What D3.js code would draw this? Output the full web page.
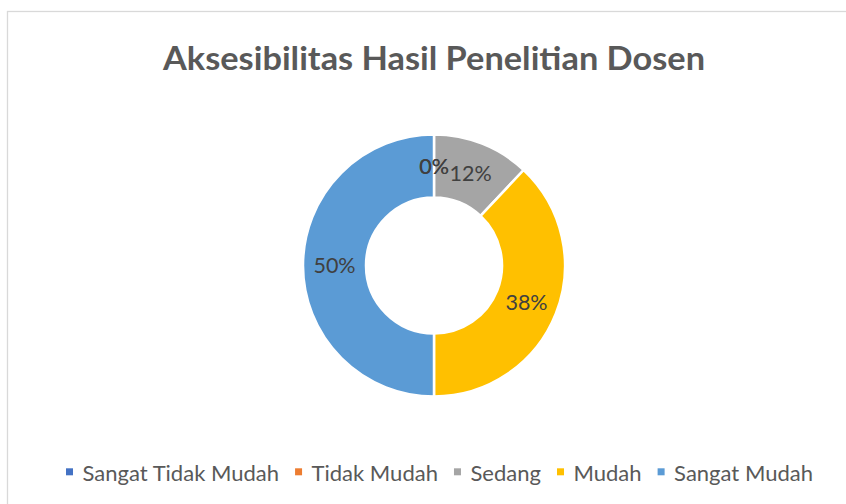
<!DOCTYPE html>
<html>
<head>
<meta charset="utf-8">
<script src="https://cdn.jsdelivr.net/npm/d3@7"></script>
<style>
  html, body { margin: 0; padding: 0; background: #fff; }
  svg { display: block; }
</style>
</head>
<body>
<svg id="chart" width="846" height="504"></svg>
<script>
const title = "Aksesibilitas Hasil Penelitian Dosen";
const categories = ["Sangat Tidak Mudah", "Tidak Mudah", "Sedang", "Mudah", "Sangat Mudah"];
const values = [0, 0, 12, 38, 50];
const colors = ["#4472C4", "#ED7D31", "#A5A5A5", "#FFC000", "#5B9BD5"];

const W = 846, H = 504;
const svg = d3.select("#chart");
const FONT = "Lato, 'Open Sans', sans-serif";

// chart area border
svg.append("rect")
  .attr("x", 7.5).attr("y", 11.5)
  .attr("width", W + 20).attr("height", H + 20)
  .attr("fill", "#fff")
  .attr("stroke", "#d9d9d9").attr("stroke-width", 1.3);

// title
svg.append("text")
  .attr("x", 163).attr("y", 70)
  .attr("font-family", FONT)
  .attr("font-weight", "bold")
  .attr("font-size", 33)
  .attr("fill", "#595959")
  .attr("textLength", 542)
  .attr("lengthAdjust", "spacingAndGlyphs")
  .text(title);

// donut
const cx = 434, cy = 265.5, R = 131, r = 68;
const data = categories.map((c, i) => ({ cat: c, value: values[i], color: colors[i] }));
const total = d3.sum(values);
const pie = d3.pie().sort(null).value(d => d.value);
const arcs = pie(data);
const arc = d3.arc().innerRadius(r).outerRadius(R);
const labelArc = d3.arc().innerRadius((r + R) / 2).outerRadius((r + R) / 2);
const pct = d3.format(".0%");

const g = svg.append("g").attr("transform", `translate(${cx},${cy})`);
g.selectAll("path.slice")
  .data(arcs)
  .join("path")
  .attr("class", "slice")
  .attr("d", arc)
  .attr("fill", d => d.data.color)
  .attr("stroke", "#fff")
  .attr("stroke-width", d => d.data.value > 0 ? 2.5 : 0)
  .attr("stroke-linejoin", "round");

g.selectAll("text.lbl")
  .data(arcs)
  .join("text")
  .attr("class", "lbl")
  .attr("transform", d => {
    const [x, y] = labelArc.centroid(d);
    return `translate(${x},${y})`;
  })
  .attr("text-anchor", "middle")
  .attr("dy", "0.36em")
  .attr("font-family", FONT)
  .attr("font-size", 21.5)
  .attr("fill", "#404040")
  .text(d => pct(d.data.value / total));

// legend
const legendStart = 66, legendEnd = 813;
const mk = 7, mkGap = 9.5, itemGap = 16;
const LFS = 22;
const lg = svg.append("g");
const items = lg.selectAll("g.item").data(data).join("g").attr("class", "item");
const texts = items.append("text")
  .attr("font-family", FONT)
  .attr("font-size", LFS)
  .attr("fill", "#595959")
  .attr("y", 480.5)
  .text(d => d.cat);
const widths = [];
let measured = 0;
texts.each(function () { const w = this.getComputedTextLength(); widths.push(w); measured += w; });
const avail = (legendEnd - legendStart) - data.length * (mk + mkGap) - (data.length - 1) * itemGap;
const k = avail / measured;
let x = legendStart;
items.each(function (d, i) {
  const it = d3.select(this);
  it.append("rect")
    .attr("x", x).attr("y", 468.3)
    .attr("width", mk).attr("height", mk)
    .attr("fill", d.color);
  const w = widths[i] * k;
  it.select("text")
    .attr("x", x + mk + mkGap)
    .attr("textLength", w)
    .attr("lengthAdjust", "spacingAndGlyphs");
  x += mk + mkGap + w + itemGap;
});
</script>
</body>
</html>
